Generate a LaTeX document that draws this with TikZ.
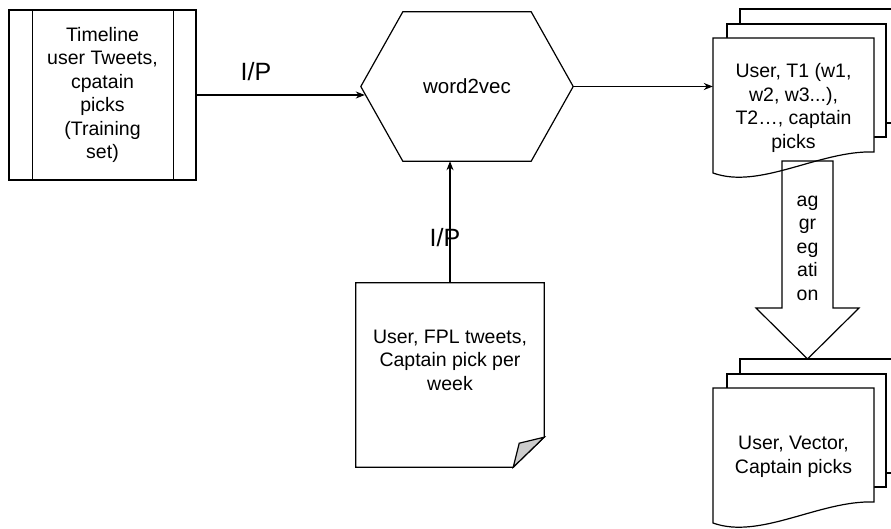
\documentclass[tikz,border=0pt]{standalone}
\usepackage{fontspec}
\setmainfont{Liberation Sans}
\usetikzlibrary{arrows.meta,positioning}

\tikzset{
  every node/.style={font=\fontsize{19.5}{23.5}\selectfont, align=center, inner sep=0pt},
  shape line/.style={line width=1.2pt},
  link/.style={line width=1.2pt, -{Stealth[length=9pt,width=7pt]}},
  iplabel/.style={font=\fontsize{25}{30}\selectfont},
  docstack/.pic={
    \draw[shape line, fill=white] (27,-29) rectangle (187,85);
    \draw[shape line, fill=white] (14,-14) rectangle (173,99);
    \draw[shape line, fill=white] (0,0) -- (161,0) -- (161,114)
      .. controls (107,112) and (47,152) .. (0,135) -- cycle;
  }
}

\begin{document}
\begin{tikzpicture}[x=1pt,y=-1pt]
  \useasboundingbox (0,0) rectangle (891,529);
  \clip (0,0) rectangle (891,529);

  % training set
  \node[draw, shape line, minimum width=187pt, minimum height=170pt] (timeline) at (102.5,95)
    {Timeline\\user Tweets,\\cpatain\\picks\\(Training\\set)};
  \draw[shape line] ([xshift=24pt]timeline.north west) -- ([xshift=24pt]timeline.south west);
  \draw[shape line] ([xshift=-23pt]timeline.north east) -- ([xshift=-23pt]timeline.south east);

  % word2vec
  \node[minimum width=212pt, minimum height=149pt, font=\fontsize{20.5}{24}\selectfont] (w2v) at (467,86.5) {word2vec};
  \draw[shape line] (w2v.west) -- ([xshift=42pt]w2v.north west) -- ([xshift=-42pt]w2v.north east)
    -- (w2v.east) -- ([xshift=-42pt]w2v.south east) -- ([xshift=42pt]w2v.south west) -- cycle;

  % weekly tweets
  \node[minimum width=188pt, minimum height=184pt] (fpl) at (450,375) {};
  \node (fpltext) at ([yshift=15pt]fpl.center) {User, FPL tweets,\\Captain pick per\\week};
  \draw[shape line] (fpl.north west) -- (fpl.north east) -- ([yshift=30pt]fpl.south east)
    -- ([xshift=-31pt]fpl.south east) -- (fpl.south west) -- cycle;
  \filldraw[shape line, fill=black!20] ([yshift=30pt]fpl.south east)
    -- ([xshift=-25pt,yshift=24pt]fpl.south east) -- ([xshift=-31pt]fpl.south east) -- cycle;

  % tweet vectors
  \pic at (713,38) {docstack};
  \node[minimum width=161pt] (tweets) at (793.5,108) {User, T1 (w1,\\w2, w3...),\\T2…, captain\\picks};

  % aggregation
  \draw[shape line] (782,161) -- (833,161) -- (833,308) -- (859,308) -- (807.5,359)
    -- (756,308) -- (782,308) -- cycle;
  \node (agg) at (807.5,248) {ag\\gr\\eg\\ati\\on};

  % user vectors
  \pic at (713,388) {docstack};
  \node[minimum width=161pt] (uservec) at (793.5,457) {User, Vector,\\Captain picks};

  % links
  \draw[link, shorten >=-4pt] (timeline.east) -- (timeline.east -| w2v.west);
  \draw[link] (w2v.east) -- (w2v.east -| tweets.west);
  \draw[link] (fpl.north) -- (fpl.north |- w2v.south);
  \node[iplabel] (ip1) at (256,72) {I/P};
  \node[iplabel] (ip2) at (445,238) {I/P};
\end{tikzpicture}
\end{document}
